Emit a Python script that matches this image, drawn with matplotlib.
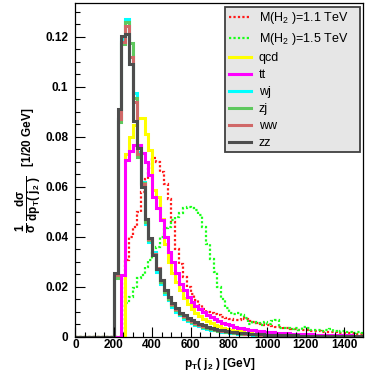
import numpy as np
import matplotlib
matplotlib.use('Agg')
import matplotlib.pyplot as plt
from matplotlib.ticker import MultipleLocator, FixedLocator

plt.rcParams.update({
    'font.family': 'Liberation Sans',
    'mathtext.fontset': 'custom',
    'mathtext.rm': 'Liberation Sans',
    'mathtext.it': 'Liberation Sans',
    'mathtext.bf': 'Liberation Sans:bold',
})

# 20 GeV bins from 0 to 1500
EDGES = np.arange(0, 1520, 20)

# each series: first bin lower edge (GeV) and normalised bin contents
sig11_start = 260
sig11 = [0.0307, 0.040, 0.044, 0.050, 0.058, 0.063, 0.067, 0.0713, 0.070, 0.066,
         0.061, 0.055, 0.046, 0.035, 0.029, 0.024, 0.020, 0.017, 0.0145, 0.0125,
         0.011, 0.010, 0.0095, 0.009, 0.0085, 0.008, 0.0075, 0.007, 0.0068, 0.0065,
         0.0075, 0.007, 0.0062, 0.0058, 0.0055, 0.005, 0.0048, 0.0045, 0.0042, 0.004,
         0.0038, 0.0036, 0.0033, 0.0031, 0.003, 0.0028, 0.0026, 0.0025, 0.0024, 0.0022,
         0.0021, 0.002, 0.0019, 0.0018, 0.0017, 0.0016, 0.0015, 0.0014, 0.0014, 0.0013,
         0.0012, 0.0012]

sig15_start = 260
sig15 = [0.0133, 0.016, 0.0193, 0.0233, 0.0247, 0.028, 0.0307, 0.0333, 0.036, 0.040,
         0.0433, 0.044, 0.0467, 0.048, 0.0493, 0.0513, 0.052, 0.0513, 0.0507, 0.0487,
         0.044, 0.037, 0.031, 0.026, 0.020, 0.015, 0.0115, 0.0095, 0.009, 0.0093,
         0.0087, 0.0075, 0.005, 0.006, 0.0053, 0.0047, 0.006, 0.005, 0.0064, 0.0067,
         0.0035, 0.0033, 0.0035, 0.003, 0.0033, 0.0028, 0.0037, 0.0033, 0.0027, 0.0025,
         0.0027, 0.0023, 0.0025, 0.003, 0.0022, 0.002, 0.0023, 0.0018, 0.002, 0.0016,
         0.0018, 0.0014]

qcd_start = 260
qcd = [0.073, 0.080, 0.0847, 0.0877, 0.0877, 0.081, 0.0747, 0.0587, 0.056, 0.047,
       0.037, 0.030, 0.0255, 0.022, 0.0185, 0.0155, 0.013, 0.011, 0.0095, 0.0082,
       0.0071, 0.0062, 0.0054, 0.0047, 0.0041, 0.0036, 0.0031, 0.0027, 0.0024, 0.0021,
       0.0018, 0.0016, 0.0014, 0.0012, 0.0011, 0.001, 0.0009, 0.0008, 0.0007, 0.0006,
       0.0006, 0.0005, 0.0005, 0.0004, 0.0004, 0.0004, 0.0003, 0.0003, 0.0003, 0.0003,
       0.0002, 0.0002, 0.0002, 0.0002, 0.0002, 0.0002, 0.0001, 0.0001, 0.0001, 0.0001]

tt_start = 240
tt = [0.0245, 0.0707, 0.0744, 0.0767, 0.0767, 0.0733, 0.070, 0.0647, 0.056, 0.0513,
      0.0467, 0.040, 0.034, 0.030, 0.0255, 0.021, 0.0187, 0.016, 0.014, 0.0122,
      0.011, 0.0097, 0.0087, 0.0078, 0.007, 0.0062, 0.0055, 0.005, 0.0045, 0.004,
      0.0036, 0.0033, 0.003, 0.0028, 0.0026, 0.0024, 0.0022, 0.002, 0.0019, 0.0017,
      0.0016, 0.0015, 0.0014, 0.0013, 0.0012, 0.0011, 0.001, 0.001, 0.0009, 0.0009,
      0.0008, 0.0008, 0.0007, 0.0007, 0.0006, 0.0006, 0.0006, 0.0005, 0.0005, 0.0005,
      0.0004, 0.0004, 0.0004]

wj_start = 200
wj = [0.024, 0.0873, 0.119, 0.127, 0.109, 0.0976, 0.074, 0.062, 0.045, 0.038,
      0.034, 0.026, 0.021, 0.017, 0.0145, 0.012, 0.010, 0.0085, 0.0072, 0.0062,
      0.0054, 0.0047, 0.0041, 0.0036, 0.0032, 0.0028, 0.0025, 0.0022, 0.0019, 0.0017,
      0.0015, 0.0013, 0.0012, 0.0011, 0.001, 0.0009, 0.0008, 0.0007, 0.0006, 0.0006,
      0.0005, 0.0005, 0.0004, 0.0004, 0.0003, 0.0003, 0.0003, 0.0002, 0.0002, 0.0002]

zj_start = 200
zj = [0.0235, 0.086, 0.117, 0.126, 0.1176, 0.0957, 0.072, 0.0615, 0.046, 0.0385,
      0.033, 0.027, 0.022, 0.018, 0.0152, 0.0127, 0.0107, 0.009, 0.0078, 0.0068,
      0.0059, 0.0052, 0.0045, 0.004, 0.0035, 0.0031, 0.0027, 0.0024, 0.0021, 0.0019,
      0.0017, 0.0015, 0.0013, 0.0012, 0.0011, 0.001, 0.0009, 0.0008, 0.0007, 0.0007,
      0.0006, 0.0005, 0.0005, 0.0004, 0.0004, 0.0003, 0.0003, 0.0003, 0.0002, 0.0002]

ww_start = 200
ww = [0.0245, 0.087, 0.118, 0.1245, 0.112, 0.094, 0.073, 0.061, 0.047, 0.039,
      0.033, 0.0275, 0.0225, 0.0185, 0.0158, 0.013, 0.011, 0.0094, 0.0082, 0.0072,
      0.0063, 0.0055, 0.0048, 0.0043, 0.0038, 0.0034, 0.003, 0.0026, 0.0023, 0.0021,
      0.0019, 0.0017, 0.0015, 0.0013, 0.0012, 0.0011, 0.001, 0.0009, 0.0008, 0.0008,
      0.0007, 0.0006, 0.0006, 0.0005, 0.0005, 0.0004, 0.0004, 0.0003, 0.0003, 0.0003]

zz_start = 200
zz = [0.0256, 0.091, 0.1203, 0.1213, 0.109, 0.0865, 0.0755, 0.060, 0.047, 0.0393,
      0.0327, 0.027, 0.0227, 0.0187, 0.016, 0.0133, 0.0113, 0.0096, 0.0085, 0.0075,
      0.0066, 0.0058, 0.0051, 0.0045, 0.004, 0.0036, 0.0032, 0.0028, 0.0025, 0.0022,
      0.002, 0.0018, 0.0016, 0.0014, 0.0013, 0.0012, 0.0011, 0.001, 0.0009, 0.0008,
      0.0008, 0.0007, 0.0007, 0.0006, 0.0006, 0.0005, 0.0005, 0.0005, 0.0004, 0.0004,
      0.0004, 0.0003, 0.0003, 0.0003, 0.0003, 0.0003, 0.0002, 0.0002, 0.0002, 0.0002,
      0.0002, 0.0002, 0.0002, 0.0001, 0.0001]


def binned(start, vals):
    """Put the listed contents into the full 0-1500 binning."""
    h = np.zeros(len(EDGES) - 1)
    i0 = int(start // 20)
    n = min(len(vals), len(h) - i0)
    h[i0:i0 + n] = vals[:n]
    return h


series = [
    (sig11_start, sig11, 'M(H$_{2}$ )=1.1 TeV', '#ff1a1a', (0, (1, 1)), 1.6),
    (sig15_start, sig15, 'M(H$_{2}$ )=1.5 TeV', '#19ff19', (0, (1, 1)), 1.6),
    (qcd_start, qcd, 'qcd', '#ffff00', '-', 2.2),
    (tt_start, tt, 'tt', '#ff00ff', '-', 2.2),
    (wj_start, wj, 'wj', '#00ffff', '-', 2.2),
    (zj_start, zj, 'zj', '#5ec85e', '-', 2.2),
    (ww_start, ww, 'ww', '#d06868', '-', 2.2),
    (zz_start, zz, 'zz', '#4d4d4d', '-', 2.2),
]

fig = plt.figure(figsize=(3.74, 3.83), dpi=100)
ax = fig.add_axes([0.2016, 0.121, 0.7700, 0.871])

for start, vals, label, color, ls, lw in series:
    ax.stairs(binned(start, vals), EDGES, color=color, linestyle=ls,
              linewidth=lw, label=label)

ax.set_xlim(0, 1500)
ax.set_ylim(0, 0.1335)

ax.xaxis.set_major_locator(MultipleLocator(200))
ax.xaxis.set_minor_locator(MultipleLocator(50))
ax.yaxis.set_major_locator(FixedLocator([0, 0.02, 0.04, 0.06, 0.08, 0.1, 0.12]))
ax.yaxis.set_minor_locator(MultipleLocator(0.005))
ax.set_yticklabels(['0', '0.02', '0.04', '0.06', '0.08', '0.1', '0.12'])

ax.tick_params(which='both', direction='in', top=False, right=False, width=0.8)
ax.tick_params(which='major', length=7.2)
ax.tick_params(which='minor', length=3.6)
ax.tick_params(axis='x', pad=2)
ax.tick_params(axis='y', pad=5)
for lab in ax.get_xticklabels() + ax.get_yticklabels():
    lab.set_fontweight('bold')
    lab.set_fontsize(8.5)
for sp in ax.spines.values():
    sp.set_linewidth(0.9)

ax.set_xlabel(r'p$_{\mathbf{T}}$( j$_{\mathbf{2}}$ ) [GeV]', fontsize=8.5,
              fontweight='bold', labelpad=3)
ax.set_ylabel(r'$\mathbf{\dfrac{1}{\sigma}\ \dfrac{d\sigma}{dp_{T}(\ j_{2}\ )}}$   [1/20 GeV]',
              fontsize=8.5, fontweight='bold', labelpad=2)

leg = ax.legend(loc='upper left', bbox_to_anchor=(0.521, 0.553, 0.469, 0.435),
                mode='expand', fontsize=9, frameon=True, fancybox=False,
                handlelength=1.8, handletextpad=0.6, labelspacing=0.40,
                borderpad=0.25, borderaxespad=0)
frame = leg.get_frame()
frame.set_facecolor('#e6e6e6')
frame.set_edgecolor('#404040')
frame.set_linewidth(1.3)
frame.set_alpha(1)

fig.savefig('out.png', dpi=100)
